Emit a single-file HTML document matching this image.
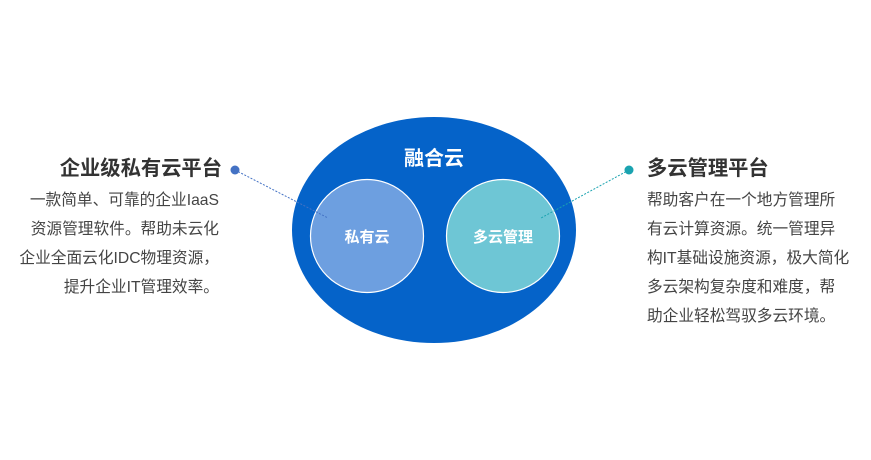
<!DOCTYPE html>
<html><head><meta charset="utf-8"><style>
body{margin:0;width:871px;height:460px;background:#fff;position:relative;overflow:hidden;font-family:"Liberation Sans","Noto Sans CJK SC",sans-serif}
h3{position:absolute;margin:0;font-size:20.3px;font-weight:bold;color:#333;white-space:nowrap}
.b{position:absolute;font-size:15.7px;color:#444;line-height:29px;white-space:nowrap}
</style></head><body>
<svg width="871" height="460" style="position:absolute;left:0;top:0">
<ellipse cx="434" cy="230" rx="142" ry="113" fill="#0563c9"/>
<circle cx="367" cy="236" r="56.5" fill="#6d9fe0" stroke="#fff" stroke-width="1.2"/>
<circle cx="503" cy="236" r="56.5" fill="#6ec6d5" stroke="#fff" stroke-width="1.2"/>
<line x1="235" y1="170" x2="328" y2="218" stroke="#4472c4" stroke-width="1" stroke-dasharray="2,1.5"/>
<line x1="629" y1="170" x2="541" y2="218" stroke="#1aa3b0" stroke-width="1" stroke-dasharray="2,1.5"/>
<circle cx="235" cy="170" r="4.5" fill="#4472c4"/>
<circle cx="629" cy="170" r="4.5" fill="#1aa3b0"/>
<text x="434" y="165" fill="#fff" font-size="20" font-weight="bold" text-anchor="middle" font-family="Liberation Sans, Noto Sans CJK SC, sans-serif">融合云</text>
<text x="367" y="242" fill="#fff" font-size="15" font-weight="bold" text-anchor="middle" font-family="Liberation Sans, Noto Sans CJK SC, sans-serif">私有云</text>
<text x="503" y="242" fill="#fff" font-size="15" font-weight="bold" text-anchor="middle" font-family="Liberation Sans, Noto Sans CJK SC, sans-serif">多云管理</text>
</svg>
<h3 style="right:649px;top:151px">企业级私有云平台</h3>
<div class="b" style="right:652px;top:186px;text-align:right">一款简单、可靠的企业IaaS<br>资源管理软件。帮助未云化<br>企业全面云化IDC物理资源，<br>提升企业IT管理效率。</div>
<h3 style="left:647px;top:151px">多云管理平台</h3>
<div class="b" style="left:647px;top:186px">帮助客户在一个地方管理所<br>有云计算资源。统一管理异<br>构IT基础设施资源，极大简化<br>多云架构复杂度和难度，帮<br>助企业轻松驾驭多云环境。</div>
</body></html>
